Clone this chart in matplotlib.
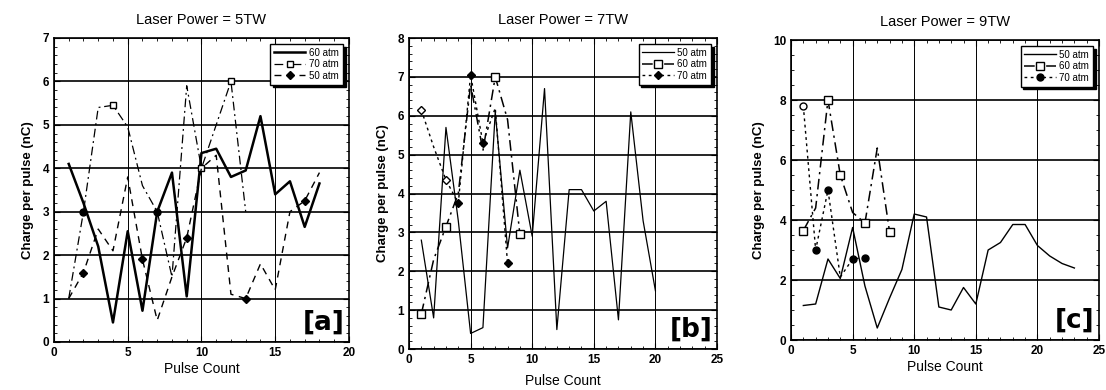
import matplotlib
matplotlib.use("Agg")
import matplotlib.pyplot as plt
from matplotlib.ticker import MultipleLocator

plt.rcParams['font.family'] = ['Liberation Sans', 'DejaVu Sans']

# ---- panel (a): 5 TW ----
a_x60 = list(range(1, 19))
a_y60 = [4.1, 3.2, 2.2, 0.45, 2.55, 0.72, 3.0, 3.9, 1.05, 4.35, 4.45, 3.8, 3.95, 5.2, 3.4, 3.7, 2.65, 3.65]
a_x70 = list(range(1, 14))
a_y70 = [1.0, 3.0, 5.4, 5.45, 4.95, 3.6, 3.0, 1.5, 5.9, 4.0, 5.0, 6.0, 3.0]
a_x50 = list(range(1, 19))
a_y50 = [1.0, 1.6, 2.6, 2.1, 3.8, 1.9, 0.5, 1.5, 2.4, 4.0, 4.3, 1.1, 1.0, 1.8, 1.2, 3.0, 3.25, 3.9]

# ---- panel (b): 7 TW ----
b_x50 = list(range(1, 21))
b_y50 = [2.8, 0.8, 5.7, 3.3, 0.4, 0.55, 6.1, 2.6, 4.6, 2.9, 6.7, 0.5, 4.1, 4.1, 3.55, 3.8, 0.75, 6.1, 3.3, 1.5]
b_x60 = list(range(1, 10))
b_y60 = [0.9, 2.3, 3.15, 4.0, 6.8, 5.1, 7.0, 5.9, 2.95]
b_x70 = list(range(1, 9))
b_y70 = [6.15, 5.2, 4.35, 3.75, 7.05, 5.3, 6.2, 2.2]

# ---- panel (c): 9 TW ----
c_x50 = list(range(1, 24))
c_y50 = [1.15, 1.2, 2.7, 2.05, 3.75, 1.8, 0.4, 1.4, 2.35, 4.2, 4.1, 1.1, 1.0, 1.75, 1.2, 3.0, 3.25, 3.85, 3.85, 3.15, 2.8, 2.55, 2.4]
c_x60 = list(range(1, 9))
c_y60 = [3.65, 4.4, 8.0, 5.5, 4.25, 3.9, 6.4, 3.6]
c_x70 = list(range(1, 7))
c_y70 = [7.8, 3.0, 5.0, 2.1, 2.7, 2.75]

titles = ['Laser Power = 5TW', 'Laser Power = 7TW', 'Laser Power = 9TW']
tags = ['[a]', '[b]', '[c]']

fig = plt.figure(figsize=(11.06, 3.9), dpi=100)
axa = fig.add_axes([0.0488, 0.1231, 0.2667, 0.7795])
axb = fig.add_axes([0.3698, 0.1051, 0.2785, 0.7974])
axc = fig.add_axes([0.7152, 0.1282, 0.2785, 0.7692])

dash70 = (0, (7, 3, 1.5, 3))
dash50 = (0, (5, 4))
dot = (0, (2, 2.5))

# panel a
axa.plot(a_x60, a_y60, color='black', lw=1.8, label='60 atm')
axa.plot(a_x70, a_y70, color='black', lw=0.9, ls=dash70, marker='s', ms=5,
         mfc='white', markevery=[3, 9, 11], label='70 atm')
axa.plot(a_x70, a_y70, ls='none', marker='o', ms=5, color='black', markevery=[1, 6])
axa.plot(a_x50, a_y50, color='black', lw=1.0, ls=dash50, marker='D', ms=4,
         markevery=[1, 5, 8, 12, 16], label='50 atm')

# panel b
axb.plot(b_x50, b_y50, color='black', lw=0.9, label='50 atm')
axb.plot(b_x60, b_y60, color='black', lw=1.1, ls=dash70, marker='s', ms=6,
         mfc='white', markevery=[0, 2, 6, 8], label='60 atm')
axb.plot(b_x70, b_y70, color='black', lw=1.0, ls=dot, marker='D', ms=4,
         markevery=[3, 4, 5, 7], label='70 atm')
axb.plot(b_x70, b_y70, ls='none', marker='D', ms=4, mfc='white', color='black',
         markevery=[0, 2])

# panel c
axc.plot(c_x50, c_y50, color='black', lw=1.0, label='50 atm')
axc.plot(c_x60, c_y60, color='black', lw=1.1, ls=dash70, marker='s', ms=6,
         mfc='white', markevery=[0, 2, 3, 5, 7], label='60 atm')
axc.plot(c_x70, c_y70, color='black', lw=1.0, ls=dot, marker='o', ms=5,
         markevery=[1, 2, 4, 5], label='70 atm')
axc.plot(c_x70, c_y70, ls='none', marker='o', ms=5, mfc='white', color='black',
         markevery=[0])

limits = [(20, 7, 0.2), (25, 8, 0.2), (25, 10, 0.5)]
ymaj = [1, 1, 2]
for ax, title, tag, (xm, ym, yminor), ystep in zip([axa, axb, axc], titles, tags, limits, ymaj):
    ax.set_xlim(0, xm)
    ax.set_ylim(0, ym)
    ax.xaxis.set_major_locator(MultipleLocator(5))
    ax.xaxis.set_minor_locator(MultipleLocator(1))
    ax.yaxis.set_major_locator(MultipleLocator(ystep))
    ax.yaxis.set_minor_locator(MultipleLocator(yminor))
    ax.tick_params(which='both', direction='in', top=True, right=True, labelsize=8.5)
    ax.tick_params(which='major', length=4)
    ax.tick_params(which='minor', length=2.5)
    for t in ax.get_xticklabels() + ax.get_yticklabels():
        t.set_fontweight('bold')
    ax.grid(axis='y', which='major', color='black', lw=1.2)
    ax.grid(axis='x', which='major', color='black', lw=0.7)
    ax.set_axisbelow(True)
    for s in ax.spines.values():
        s.set_linewidth(1.2)
    ax.set_title(title, fontsize=10.5, pad=10)
    ax.set_xlabel('Pulse Count', fontsize=10, labelpad=2)
    ax.set_ylabel('Charge per pulse (nC)', fontsize=9.5, fontweight='bold', labelpad=6)
    ax.text(0.985, 0.02, tag, transform=ax.transAxes, ha='right', va='bottom',
            fontsize=19, fontweight='bold', family='DejaVu Sans')
    leg = ax.legend(loc='upper right', fontsize=7, frameon=True, fancybox=False,
                    shadow={'color': 'black', 'alpha': 1}, handlelength=3.2,
                    borderaxespad=0.6, labelspacing=0.15, handletextpad=0.4,
                    borderpad=0.4)
    leg.get_frame().set_edgecolor('black')
    leg.get_frame().set_linewidth(1.0)

axb.xaxis.labelpad = 6

fig.savefig('out.png', dpi=100)
